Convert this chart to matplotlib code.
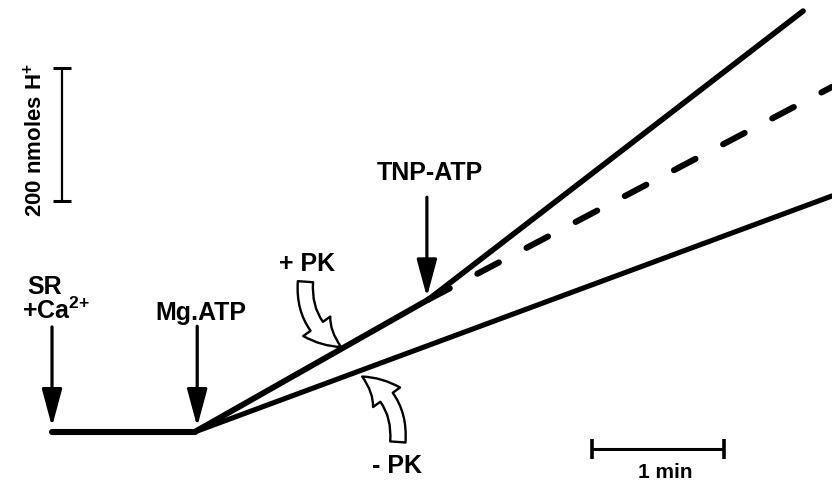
import matplotlib
matplotlib.use('Agg')
import matplotlib.pyplot as plt
import numpy as np

plt.rcParams['font.family'] = ['Liberation Sans', 'DejaVu Sans']
plt.rcParams['font.weight'] = 'bold'
plt.rcParams['mathtext.fontset'] = 'custom'
plt.rcParams['mathtext.rm'] = 'Liberation Sans:bold'
plt.rcParams['mathtext.bf'] = 'Liberation Sans:bold'
plt.rcParams['lines.scale_dashes'] = False

# time in min, H+ uptake in nmol
T_SR = 0.0
T_MGATP = 1.08
T_TNP = 2.85

base_t = [T_SR, T_MGATP]
base_h = [0, 0]
plus_pk_t = [T_MGATP, T_TNP]          # +PK trace up to TNP-ATP addition
plus_pk_h = [0, 199]
tnp_t = [T_TNP, 5.69]                 # after TNP-ATP
tnp_h = [199, 633]
ctrl_t = [T_TNP, 5.91]                # +PK, no TNP-ATP (dashed)
ctrl_h = [199, 519]
minus_pk_t = [T_MGATP, 5.91]          # -PK trace
minus_pk_h = [0, 355]

# scale bars
bar_h = 200        # nmol H+
bar_t = 1.0        # min


def on_line(t, ts, hs):
    return np.interp(t, ts, hs)


def main():
    fig = plt.figure(figsize=(8.32, 4.81), dpi=100)
    ax = fig.add_axes([0, 0, 1, 1])
    ax.set_xlim(-0.394, 5.909)
    ax.set_ylim(-72.2, 651.1)
    ax.axis('off')

    kw = dict(color='k', solid_capstyle='round', dash_capstyle='round')
    ax.plot(base_t, base_h, lw=4.4, **kw)
    ax.plot(plus_pk_t, plus_pk_h, lw=4.2, **kw)
    ax.plot(tnp_t, tnp_h, lw=4.0, **kw)
    ax.plot(minus_pk_t, minus_pk_h, lw=3.7, **kw)
    ax.plot(ctrl_t, ctrl_h, lw=4.4, dashes=(17.5, 22.5), **kw)

    # straight addition arrows
    akw = dict(arrowstyle='-|>,head_length=2.3,head_width=0.62', lw=2.3,
               color='k', shrinkA=0, shrinkB=0, mutation_scale=10)
    ax.annotate('', xy=(T_SR, 8), xytext=(T_SR, 158), arrowprops=akw)
    ax.annotate('', xy=(T_MGATP + 0.02, 8), xytext=(T_MGATP + 0.02, 159),
                arrowprops=akw)
    tnp_tip = on_line(T_TNP, plus_pk_t, plus_pk_h) + 4
    ax.annotate('', xy=(T_TNP - 0.01, tnp_tip), xytext=(T_TNP - 0.01, 353),
                arrowprops=akw)

    # open curved arrows for +PK / -PK
    ckw = dict(arrowstyle='simple,head_length=2.3,head_width=2.4,tail_width=1.1',
               fc='white', ec='k', lw=1.7, shrinkA=0, shrinkB=0,
               mutation_scale=10)
    t_p = 2.19
    ax.annotate('', xy=(t_p, on_line(t_p, plus_pk_t, plus_pk_h) + 3),
                xytext=(1.92, 226),
                arrowprops=dict(connectionstyle='arc3,rad=0.32', **ckw))
    t_m = 2.35
    ax.annotate('', xy=(t_m, on_line(t_m, minus_pk_t, minus_pk_h) - 10),
                xytext=(2.62, -15),
                arrowprops=dict(connectionstyle='arc3,rad=0.32', **ckw))

    # scale bars
    ax.errorbar(0.076, 347 + bar_h / 2, yerr=bar_h / 2, color='k', lw=1.6,
                capsize=6.2, capthick=2.2)
    ax.errorbar(4.09 + bar_t / 2, -25.6, xerr=bar_t / 2, color='k', lw=2.2,
                capsize=7.2, capthick=2.6)

    tkw = dict(ha='center', va='center', fontweight='bold', color='k')
    ax.text(-0.055, 220, 'SR', fontsize=18, **tkw)
    ax.text(0.03, 183, r'+Ca$^{\mathbf{2{+}}}$', fontsize=18, **tkw)
    ax.text(1.13, 180, 'Mg.ATP', fontsize=18, **tkw)
    ax.text(2.864, 391, 'TNP-ATP', fontsize=18, **tkw)
    ax.text(1.93, 254, '+ PK', fontsize=18, **tkw)
    ax.text(2.614, -50, '- PK', fontsize=18, **tkw)
    ax.text(4.644, -59, '1 min', fontsize=15, **tkw)
    ax.text(-0.125, 441, r'200 nmoles H$^{\mathbf{+}}$', fontsize=16,
            rotation=90, **tkw)

    fig.savefig('out.png', dpi=100)


if __name__ == '__main__':
    main()
